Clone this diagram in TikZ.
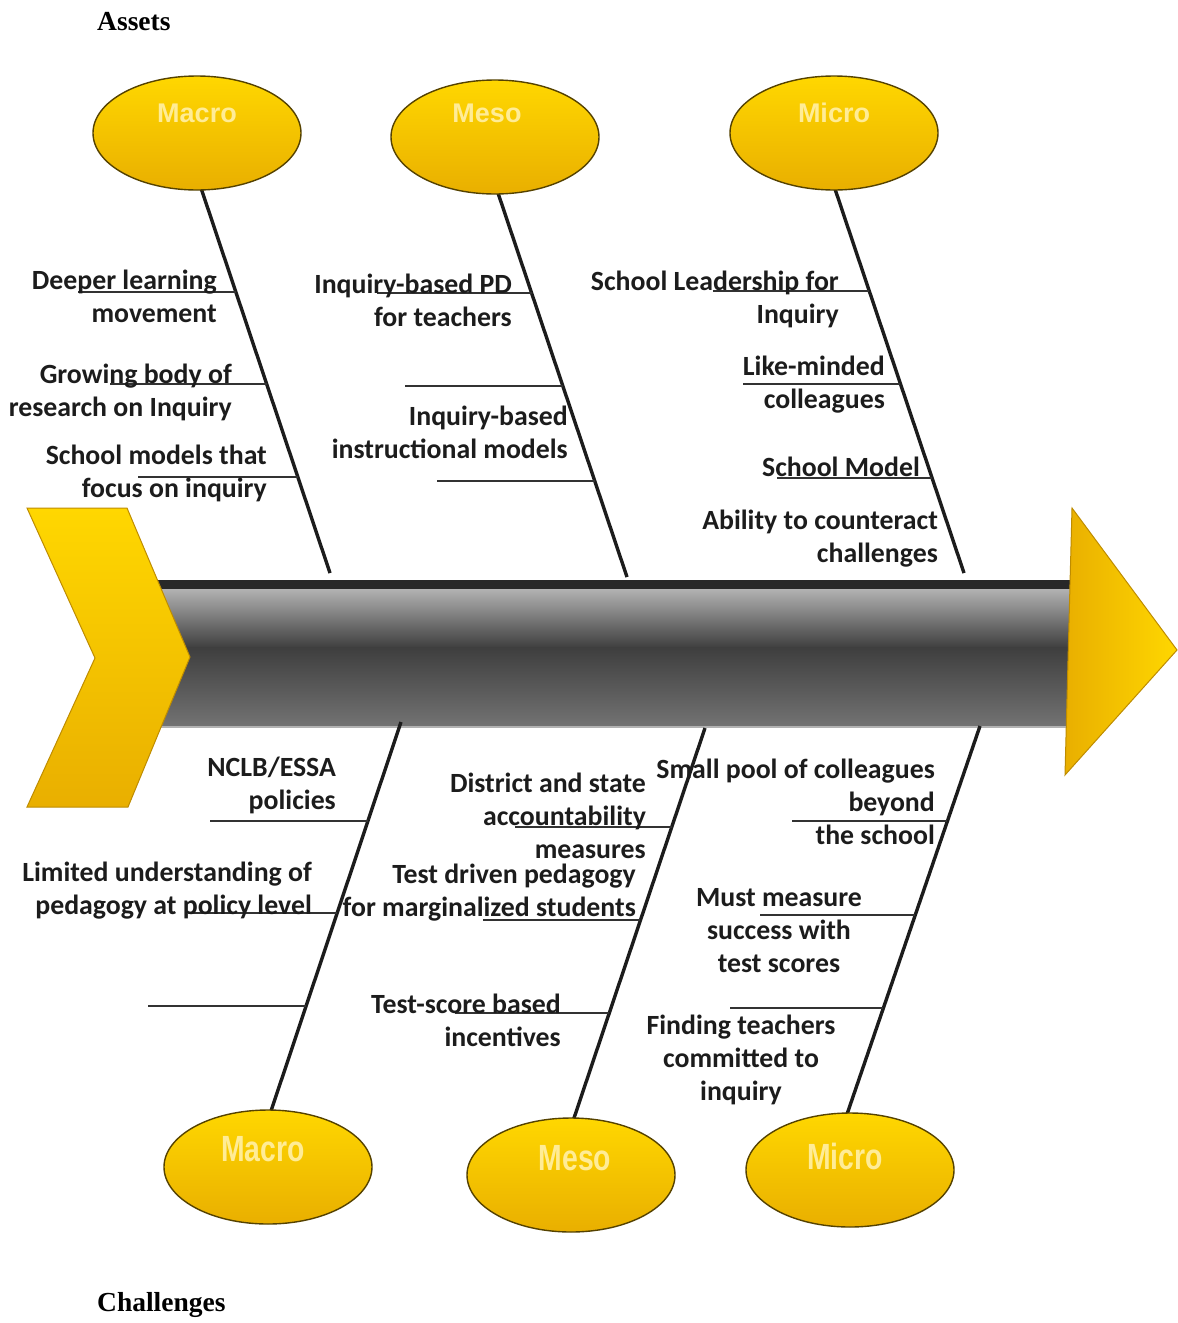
\documentclass[tikz,border=0pt]{standalone}
\usepackage{fontspec}
\newfontfamily\lblfont{Carlito}
\newfontfamily\capfont{Liberation Sans}
\newfontfamily\headfont{Liberation Serif}
\usetikzlibrary{shapes.geometric}

\definecolor{ink}{RGB}{28,28,28}
\definecolor{ribink}{RGB}{50,50,50}
\definecolor{goldtop}{RGB}{255,215,0}
\definecolor{goldbot}{RGB}{233,175,0}
\definecolor{goldedge}{RGB}{85,66,0}
\definecolor{chevedge}{RGB}{190,140,0}
\definecolor{capyellow}{RGB}{255,236,150}
\definecolor{spinetop}{RGB}{40,40,40}
\definecolor{spinelight}{RGB}{178,178,178}
\definecolor{spinedark}{RGB}{62,62,62}
\definecolor{spinelow}{RGB}{115,115,115}

\begin{document}
\begin{tikzpicture}[x=1pt,y=-1pt,
  lbl/.style={font=\lblfont\bfseries\fontsize{27.8}{33}\selectfont, text=ink, inner sep=0pt},
  bone/.style={line width=3.4pt, draw=ink},
  rib/.style={line width=2pt, draw=ribink},
  lvl/.style={ellipse, minimum width=208pt, minimum height=114pt, top color=goldtop,
    bottom color=goldbot, draw=goldedge, line width=1.4pt, inner sep=0pt},
  lvltext/.style={font=\capfont\bfseries\fontsize{27}{27}\selectfont, text=capyellow, inner sep=0pt},
  heading/.style={font=\headfont\bfseries\fontsize{27.5}{27.5}\selectfont, text=black, anchor=west, inner sep=0pt}
]
\useasboundingbox (0,0) rectangle (1178,1323);

% headings
\node[heading] (assets) at (97,22) {Assets};
\node[heading] (challenges) at (97,1305) {Challenges};

% spine
\fill[spinetop] (150,580) rectangle (1070,589);
\shade[top color=spinelight, bottom color=spinedark] (150,589) rectangle (1070,648);
\shade[top color=spinedark, bottom color=spinelow] (150,647) rectangle (1070,727);
\fill[spinelight] (150,726) rectangle (1070,728);

% tail chevron and head triangle
\shade[top color=goldtop, bottom color=goldbot, draw=chevedge, line width=1pt]
  (27,508) -- (127,508) -- (190,657) -- (128,807) -- (27,807) -- (95,658) -- cycle;
\shade[left color=goldbot, right color=goldtop, draw=chevedge, line width=1pt]
  (1072,508) -- (1177,650) -- (1065,775) -- cycle;

% bone end points
\coordinate (tA1) at (200,185);  \coordinate (tA2) at (330,573);
\coordinate (tB1) at (496,187);  \coordinate (tB2) at (627,577);
\coordinate (tC1) at (833,183);  \coordinate (tC2) at (964,573);
\coordinate (bA1) at (401,722);  \coordinate (bA2) at (268,1120);
\coordinate (bB1) at (705,728);  \coordinate (bB2) at (571,1127);
\coordinate (bC1) at (980,726);  \coordinate (bC2) at (844,1123);

\draw[bone] (tA1) -- (tA2);
\draw[bone] (tB1) -- (tB2);
\draw[bone] (tC1) -- (tC2);
\draw[bone] (bA1) -- (bA2);
\draw[bone] (bB1) -- (bB2);
\draw[bone] (bC1) -- (bC2);

% ribs, assets side
\draw[rib] (78,292) -- (236,292);
\draw[rib] (110,384) -- (267,384);
\draw[rib] (138,477) -- (298,477);
\draw[rib] (377,293) -- (532,293);
\draw[rib] (405,386) -- (563,386);
\draw[rib] (437,481) -- (595,481);
\draw[rib] (713,291) -- (869,291);
\draw[rib] (743,384) -- (900,384);
\draw[rib] (777,478) -- (932,478);
% ribs, challenges side
\draw[rib] (210,821) -- (368,821);
\draw[rib] (188,913) -- (337,913);
\draw[rib] (148,1006) -- (306,1006);
\draw[rib] (515,827) -- (672,827);
\draw[rib] (483,920) -- (640,920);
\draw[rib] (455,1013) -- (609,1013);
\draw[rib] (792,821) -- (947,821);
\draw[rib] (760,915) -- (915,915);
\draw[rib] (730,1008) -- (883,1008);

% level ellipses
\node[lvl] (tmacro) at (197,133) {};
\node[lvl] (tmeso)  at (495,137) {};
\node[lvl] (tmicro) at (834,133) {};
\node[lvl] (bmacro) at (268,1167) {};
\node[lvl] (bmeso)  at (571,1175) {};
\node[lvl] (bmicro) at (850,1170) {};

\node[lvltext] (tmacrol) at (197,113) {Macro};
\node[lvltext] (tmesol)  at (487,113) {Meso};
\node[lvltext] (tmicrol) at (834,113) {Micro};
\node[lvltext] (bmacrol) at (263,1149) {\scalebox{1.05}[1.35]{Macro}};
\node[lvltext] (bmesol)  at (575,1158) {\scalebox{1.05}[1.35]{Meso}};
\node[lvltext] (bmicrol) at (845,1156) {\scalebox{1.05}[1.35]{Micro}};

% asset labels
\node[lbl, anchor=east, align=right] (a1) at (217,296) {Deeper learning\\movement};
\node[lbl, anchor=east, align=right] (a2) at (232,392) {Growing body of\\research on Inquiry};
\node[lbl, anchor=east, align=right] (a3) at (267,473) {School models that\\focus on inquiry};
\node[lbl, anchor=east, align=right] (a4) at (512,300) {Inquiry-based PD\\for teachers};
\node[lbl, anchor=east, align=right] (a5) at (568,432) {Inquiry-based\\instructional models};
\node[lbl, anchor=east, align=right] (a6) at (839,299) {School Leadership for\\Inquiry};
\node[lbl, anchor=east, align=right] (a7) at (885,385) {Like-minded\\colleagues};
\node[lbl, anchor=east, align=right] (a8) at (920,467) {School Model};
\node[lbl, anchor=east, align=right] (a9) at (938,539) {Ability to counteract\\challenges};

% challenge labels
\node[lbl, anchor=east, align=right] (c1) at (336,785) {NCLB/ESSA\\policies};
\node[lbl, anchor=east, align=right] (c2) at (312,891) {Limited understanding of\\pedagogy at policy level};
\node[lbl, anchor=east, align=right] (c3) at (646,816) {District and state\\accountability\\measures};
\node[lbl, anchor=east, align=right] (c4) at (636,893) {Test driven pedagogy\\for marginalized students};
\node[lbl, anchor=east, align=right] (c5) at (561,1020) {Test-score based\\incentives};
\node[lbl, anchor=east, align=right] (c6) at (935,802) {Small pool of colleagues\\beyond\\the school};
\node[lbl, align=center] (c7) at (779,931) {Must measure\\success with\\test scores};
\node[lbl, align=center] (c8) at (741,1060) {Finding teachers\\committed to\\inquiry};
\end{tikzpicture}
\end{document}
